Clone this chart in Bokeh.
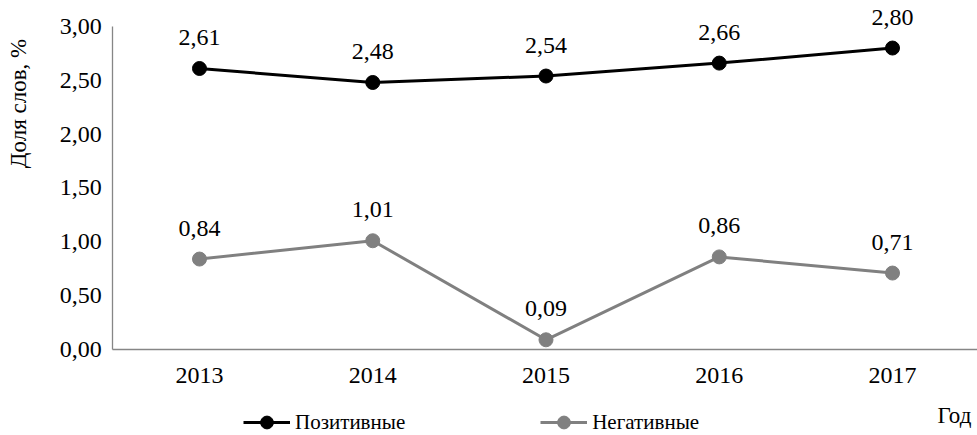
import math
from bokeh.plotting import figure
from bokeh.models import (Range1d, FixedTicker, Label, LabelSet, Legend, LegendItem,
                          ColumnDataSource)
from bokeh.core.properties import value
from bokeh.embed import file_html
from bokeh.resources import INLINE

years = [2013, 2014, 2015, 2016, 2017]
positive = [2.61, 2.48, 2.54, 2.66, 2.80]
negative = [0.84, 1.01, 0.09, 0.86, 0.71]
y_ticks = [0.0, 0.5, 1.0, 1.5, 2.0, 2.5, 3.0]
series_names = ["Позитивные", "Негативные"]
y_title = "Доля слов, %"
x_title = "Год"

FONT = "'Liberation Serif', 'Times New Roman', serif"
FS = "24px"
FS_LEG = "21px"
FS_TITLE = "23px"
BLACK = "#000000"
GRAY = "#808080"
AXIS = "#868686"

W, H = 977, 435
# frame = whole canvas; axes drawn at fixed locations inside it
X0, X1 = 2011.8514, 2017.4906
Y0, Y1 = -0.7988, 3.2415

def fmt(v):
    return f"{v:.2f}".replace(".", ",")

p = figure(width=W, height=H, output_backend="svg", toolbar_location=None,
           x_range=Range1d(X0, X1), y_range=Range1d(Y0, Y1),
           min_border=0)
p.outline_line_color = None
p.grid.visible = False
p.background_fill_color = "white"
p.border_fill_color = "white"

xa, ya = p.xaxis[0], p.yaxis[0]
xa.fixed_location = 0
ya.fixed_location = years[0] - 0.5
xa.bounds = (years[0] - 0.5, years[-1] + 0.5)
ya.bounds = (y_ticks[0], y_ticks[-1])
for ax in (xa, ya):
    ax.axis_line_color = AXIS
    ax.axis_line_width = 1.3
    ax.major_tick_line_color = None
    ax.minor_tick_line_color = None
    ax.major_tick_out = 0
    ax.major_tick_in = 0
    ax.major_label_text_font = FONT
    ax.major_label_text_font_size = FS
    ax.major_label_text_color = BLACK

xa.ticker = FixedTicker(ticks=years)
xa.major_label_overrides = {y: str(y) for y in years}
xa.major_label_standoff = 19
ya.ticker = FixedTicker(ticks=y_ticks)
ya.major_label_overrides = {t: fmt(t) for t in y_ticks}
ya.major_label_standoff = 11

renderers = []
for vals, color in ((positive, BLACK), (negative, GRAY)):
    src = ColumnDataSource(dict(x=years, y=vals, t=[fmt(v) for v in vals]))
    l = p.line("x", "y", source=src, line_color=color, line_width=3)
    c = p.scatter("x", "y", source=src, size=14, fill_color=color, line_color=color)
    p.add_layout(LabelSet(x="x", y="y", text="t", source=src, y_offset=31,
                          text_align="center", text_baseline="middle",
                          text_font=value(FONT), text_font_size=FS, text_color=BLACK))
    renderers.append([l, c])

legend = Legend(items=[LegendItem(label=series_names[i], renderers=renderers[i]) for i in range(2)],
                location=(243, -3), orientation="horizontal",
                glyph_width=47, glyph_height=32, label_height=20,
                label_standoff=5, spacing=135, padding=0, margin=0,
                border_line_color=None, background_fill_alpha=0,
                label_text_font=FONT, label_text_font_size=FS_LEG, label_text_color=BLACK)
p.add_layout(legend)

p.add_layout(Label(x=18, y=H - 103, x_units="screen", y_units="screen", text=y_title,
                   angle=math.pi / 2, text_align="center", text_baseline="middle",
                   text_font=FONT, text_font_size=FS_TITLE, text_color=BLACK))
p.add_layout(Label(x=954, y=H - 415, x_units="screen", y_units="screen", text=x_title,
                   text_align="center", text_baseline="middle",
                   text_font=FONT, text_font_size=FS_TITLE, text_color=BLACK))

open("out.html", "w").write(file_html(p, INLINE))
